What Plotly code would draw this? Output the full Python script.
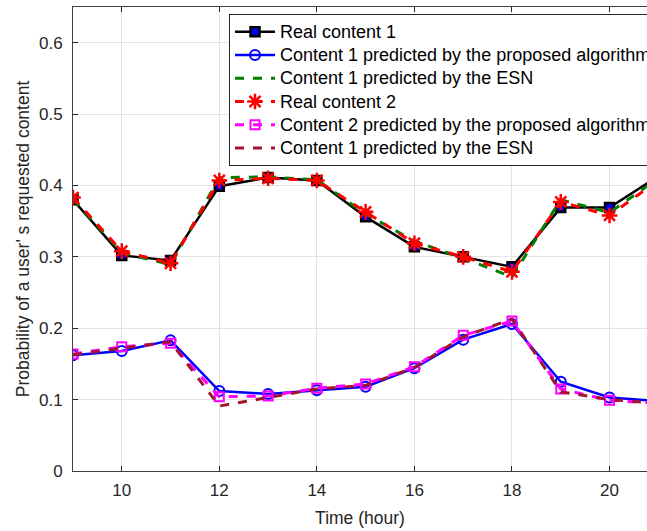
import plotly.graph_objects as go

hours = [9, 10, 11, 12, 13, 14, 15, 16, 17, 18, 19, 20, 21]

real_content_1 = [0.380, 0.302, 0.295, 0.399, 0.411, 0.407, 0.356, 0.314, 0.300, 0.286, 0.369, 0.369, 0.413]
pred_proposed_1 = [0.162, 0.168, 0.183, 0.112, 0.108, 0.113, 0.118, 0.144, 0.184, 0.206, 0.125, 0.103, 0.098]
pred_esn_1 = [0.381, 0.306, 0.289, 0.411, 0.412, 0.408, 0.360, 0.322, 0.298, 0.272, 0.380, 0.362, 0.410]
real_content_2 = [0.383, 0.308, 0.291, 0.407, 0.410, 0.407, 0.363, 0.319, 0.300, 0.279, 0.377, 0.358, 0.407]
pred_proposed_2 = [0.164, 0.174, 0.179, 0.104, 0.105, 0.116, 0.122, 0.146, 0.190, 0.210, 0.115, 0.099, 0.095]
pred_esn_2 = [0.163, 0.172, 0.181, 0.091, 0.103, 0.115, 0.120, 0.145, 0.188, 0.213, 0.111, 0.100, 0.095]

x_ticks = [10, 12, 14, 16, 18, 20]
y_ticks = [0, 0.1, 0.2, 0.3, 0.4, 0.5, 0.6]
y_tick_text = ["0", "0.1", "0.2", "0.3", "0.4", "0.5", "0.6"]

names = [
    "Real content 1",
    "Content 1 predicted by the proposed algorithm",
    "Content 1 predicted by the ESN",
    "Real content 2",
    "Content 2 predicted by the proposed algorithm",
    "Content 1 predicted by the ESN",
]

FONT = "Liberation Sans, Arial, sans-serif"
TXT = "#262626"


def leg(name):
    return '<span style="font-size:18px">' + name + '</span>'


fig = go.Figure()

fig.add_trace(go.Scatter(
    x=hours, y=real_content_1, name=leg(names[0]), mode="lines+markers",
    line=dict(color="black", width=2.5),
    marker=dict(symbol="square", size=9, color="#0000ff", line=dict(color="black", width=2.5)),
))
fig.add_trace(go.Scatter(
    x=hours, y=pred_proposed_1, name=leg(names[1]), mode="lines+markers",
    line=dict(color="#0000ff", width=2.5),
    marker=dict(symbol="circle-open", size=10, color="#0000ff", line=dict(width=2)),
))
fig.add_trace(go.Scatter(
    x=hours, y=pred_esn_1, name=leg(names[2]), mode="lines",
    line=dict(color="#008000", width=3, dash="dash"),
))
fig.add_trace(go.Scatter(
    x=hours, y=real_content_2, name=leg(names[3]), mode="lines+markers",
    line=dict(color="#ff0000", width=3, dash="dash"),
    marker=dict(symbol="asterisk-open", size=13, color="#ff0000", line=dict(width=2.5)),
))
fig.add_trace(go.Scatter(
    x=hours, y=pred_proposed_2, name=leg(names[4]), mode="lines+markers",
    line=dict(color="#ff00ff", width=3, dash="dash"),
    marker=dict(symbol="square-open", size=9, color="#ff00ff", line=dict(width=2)),
))
fig.add_trace(go.Scatter(
    x=hours, y=pred_esn_2, name=leg(names[5]), mode="lines",
    line=dict(color="#a2142f", width=3, dash="dash"),
))

fig.update_layout(
    width=647, height=531,
    margin=dict(l=73, r=0, t=7, b=60, autoexpand=False),
    paper_bgcolor="white", plot_bgcolor="white",
    font=dict(family=FONT, size=17, color=TXT),
    showlegend=True,
    legend=dict(
        x=(229 - 73) / (647 - 73), y=1 - (14 - 7) / (471 - 7),
        xanchor="left", yanchor="top",
        bgcolor="white", bordercolor="#262626", borderwidth=1,
        font=dict(family=FONT, size=15.6, color="black"),
        tracegroupgap=0, itemwidth=40,
    ),
)

fig.update_xaxes(
    range=[9, 9 + (647 - 72.7) / 48.8],
    tickvals=x_ticks, ticktext=[str(v) for v in x_ticks],
    ticks="inside", ticklen=5, tickcolor="#262626",
    showline=True, linecolor="#404040", linewidth=1, mirror="ticks",
    showgrid=True, gridcolor="#e3e3e3", gridwidth=1, zeroline=False,
    title=dict(text="Time (hour)", font=dict(size=17.5, color=TXT), standoff=12),
    tickfont=dict(size=17, color=TXT),
    ticklabelstandoff=4,
)
fig.update_yaxes(
    range=[0, 0.65],
    tickvals=y_ticks, ticktext=y_tick_text,
    ticks="inside", ticklen=5, tickcolor="#262626",
    showline=True, linecolor="#404040", linewidth=1,
    showgrid=True, gridcolor="#e3e3e3", gridwidth=1, zeroline=False,
    title=dict(text="Probability of a user' s requested content", font=dict(size=17.5, color=TXT), standoff=4),
    tickfont=dict(size=17, color=TXT),
    ticklabelstandoff=6,
)

fig.write_html(
    "out.html",
    config={"displayModeBar": False},
    post_script="document.body.style.margin='0';document.body.style.overflow='hidden';",
)
